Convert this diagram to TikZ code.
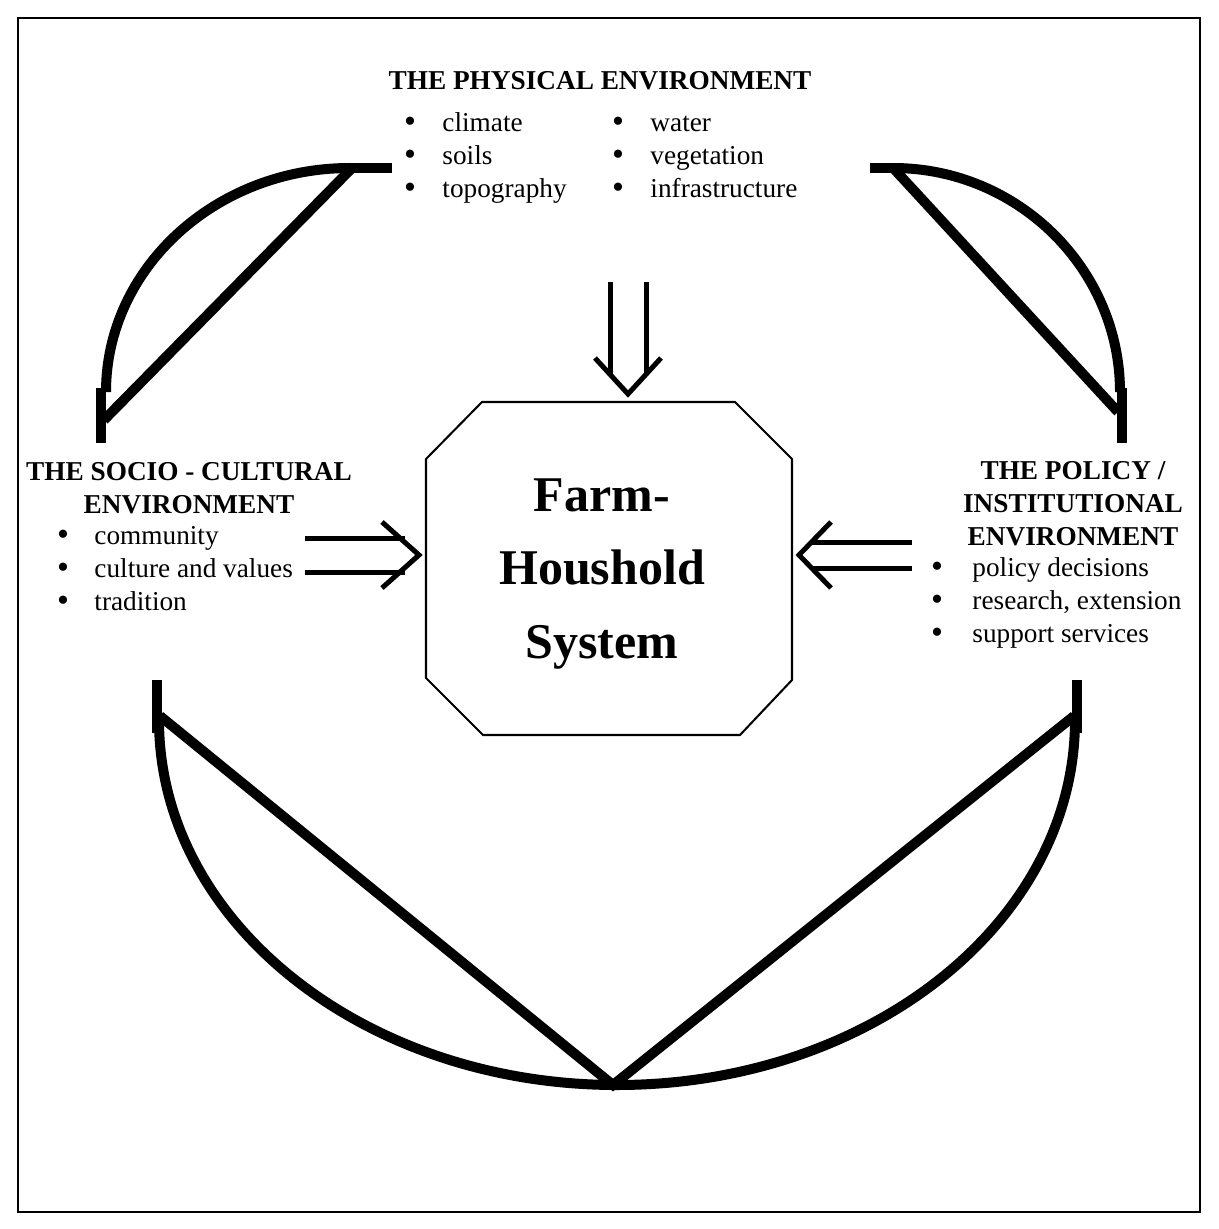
\documentclass[tikz,border=0pt]{standalone}
\usepackage{fontspec}
\setmainfont{Liberation Serif}
\begin{document}
\begin{tikzpicture}[x=0.44pt,y=-0.44pt,
  band/.style={line width=4.4pt, line cap=butt},
  arr/.style={line width=2.2pt, line cap=butt},
  chev/.style={line width=2.2pt, line join=miter},
  oct/.style={line width=0.9pt},
  frame/.style={line width=0.9pt},
  hd/.style={font=\bfseries\fontsize{12}{14.52}\selectfont, inner sep=0pt, align=center},
  itm/.style={font=\fontsize{12}{14.52}\selectfont, inner sep=0pt, anchor=base west},
  bul/.style={font=\fontsize{15}{15}\selectfont, inner sep=0pt, anchor=base},
  farmtext/.style={font=\bfseries\fontsize{22}{32.3}\selectfont, inner sep=0pt, align=center}
]
\useasboundingbox (0,0) rectangle (1218,1229);
\draw[frame] (18,18) rectangle (1200,1212);

% headings
\node[hd, anchor=base] (phys) at (600,90) {THE PHYSICAL ENVIRONMENT};
\node[hd] (socio) at (189,488) {THE SOCIO - CULTURAL\\ENVIRONMENT};
\node[hd] (policy) at (1073,504) {THE POLICY /\\INSTITUTIONAL\\ENVIRONMENT};

% physical items
\node[bul] (pb1) at (410,133) {•}; \node[itm] (pi1) at (442,132) {climate};
\node[bul] (pb2) at (410,166) {•}; \node[itm] (pi2) at (442,165) {soils};
\node[bul] (pb3) at (410,199) {•}; \node[itm] (pi3) at (442,198) {topography};
\node[bul] (pb4) at (618,133) {•}; \node[itm] (pi4) at (650,132) {water};
\node[bul] (pb5) at (618,166) {•}; \node[itm] (pi5) at (650,165) {vegetation};
\node[bul] (pb6) at (618,199) {•}; \node[itm] (pi6) at (650,198) {infrastructure};

% socio items
\node[bul] (sb1) at (63,545) {•}; \node[itm] (si1) at (94,544) {community};
\node[bul] (sb2) at (63,578) {•}; \node[itm] (si2) at (94,577) {culture and values};
\node[bul] (sb3) at (63,611) {•}; \node[itm] (si3) at (94,610) {tradition};

% policy items
\node[bul] (qb1) at (937,577) {•}; \node[itm] (qi1) at (972,576) {policy decisions};
\node[bul] (qb2) at (937,610) {•}; \node[itm] (qi2) at (972,609) {research, extension};
\node[bul] (qb3) at (937,643) {•}; \node[itm] (qi3) at (972,642) {support services};

% central system
\node[farmtext] (farm) at (602,574) {Farm-\\Houshold\\System};
\draw[oct] (482,402) -- (735,402) -- (792,459) -- (792,680) -- (740,735)
  -- (483,735) -- (426,678) -- (426,459) -- cycle;

% arrows into the system
\coordinate (dA1) at (610,282); \coordinate (dA2) at (610,374);
\coordinate (dB1) at (646,282); \coordinate (dB2) at (646,374);
\draw[arr] (dA1) -- (dA2);
\draw[arr] (dB1) -- (dB2);
\draw[chev] (595,358) -- (628,394) -- (661,358);

\coordinate (lA1) at (305,538); \coordinate (lA2) at (405,538);
\coordinate (lB1) at (305,572); \coordinate (lB2) at (405,572);
\draw[arr] (lA1) -- (lA2);
\draw[arr] (lB1) -- (lB2);
\draw[chev] (382,522) -- (419,555) -- (382,588);

\coordinate (rA1) at (912,542); \coordinate (rA2) at (812,542);
\coordinate (rB1) at (912,568); \coordinate (rB2) at (812,568);
\draw[arr] (rA1) -- (rA2);
\draw[arr] (rB1) -- (rB2);
\draw[chev] (831,522) -- (799,555) -- (831,588);

% top-left band
\draw[band] (392,168) -- (350,168);
\draw[band] (350,168) .. controls (215,168) and (106,269) .. (106,392);
\draw[band] (101,388) -- (101,443);
\draw[band] (352,168) -- (104,420);

% top-right band
\draw[band] (870,168) -- (895,168);
\draw[band] (893,168) .. controls (1018,168) and (1120,269) .. (1120,392);
\draw[band] (1122,388) -- (1122,443);
\draw[band] (895,170) -- (1118,412);

% bottom band
\draw[band] (157,680) -- (157,733);
\draw[band] (1077,680) -- (1077,733);
\draw[band] (159,720) .. controls (159,922) and (364,1085) .. (617,1085)
  .. controls (870,1085) and (1075,922) .. (1075,720);
\draw[band, line join=miter] (160,716) -- (613,1085) -- (1074,716);
\end{tikzpicture}
\end{document}
